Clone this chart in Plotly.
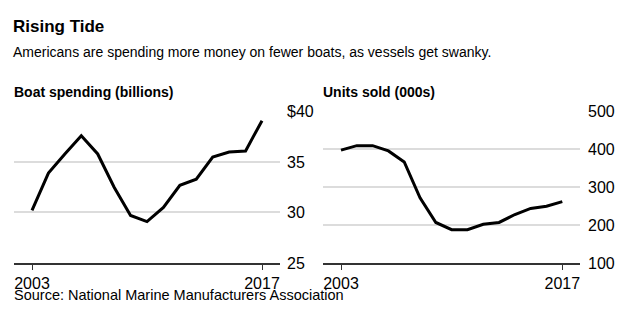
import plotly.graph_objects as go
from plotly.subplots import make_subplots

# Annual figures, 2003-2017
years = list(range(2003, 2018))
spending_billions = [30.2, 33.9, 35.8, 37.6, 35.8, 32.5, 29.7, 29.1, 30.5, 32.7, 33.3, 35.5, 36.0, 36.1, 39.1]
units_thousands = [398, 410, 410, 396, 367, 272, 207, 188, 188, 202, 207, 228, 244, 250, 262]

spend_ticks = [25, 30, 35, 40]
spend_tick_text = ["25", "30", "35", "$40"]
units_ticks = [100, 200, 300, 400, 500]
year_ticks = [2003, 2017]

W, H = 633, 325
FONT = "Liberation Sans, Arial, sans-serif"


def fx(px):
    return px / W


def fy(px):
    return 1 - px / H


fig = make_subplots(rows=1, cols=2)

fig.add_trace(go.Scatter(x=years, y=spending_billions, mode="lines",
                         line=dict(color="#000000", width=3), hoverinfo="skip"),
              row=1, col=1)
fig.add_trace(go.Scatter(x=years, y=units_thousands, mode="lines",
                         line=dict(color="#000000", width=3), hoverinfo="skip"),
              row=1, col=2)

ydom = [fy(269), fy(109.3)]

xcommon = dict(tickvals=year_ticks, ticks="outside", ticklen=5, tickwidth=1,
               tickcolor="#333333", showline=True, linecolor="#333333", linewidth=1.5,
               showgrid=False, zeroline=False,
               tickfont=dict(family=FONT, size=16, color="#000000"))
ycommon = dict(side="right", showgrid=True, gridcolor="#dcdcdc", gridwidth=1.5,
               zeroline=False, showline=False, ticks="",
               tickfont=dict(family=FONT, size=16, color="#000000"))

fig.update_layout(
    width=W, height=H, margin=dict(l=0, r=0, t=0, b=0),
    paper_bgcolor="#ffffff", plot_bgcolor="#ffffff", showlegend=False,
    xaxis=dict(domain=[fx(14), fx(280)], range=[2001.904, 2018.096], **xcommon),
    xaxis2=dict(domain=[fx(323.3), fx(580)], range=[2001.88, 2018.12], **xcommon),
    yaxis=dict(domain=ydom, range=[25, 40], tickvals=spend_ticks,
               ticktext=spend_tick_text, ticklabelstandoff=6, **ycommon),
    yaxis2=dict(domain=ydom, range=[100, 500], tickvals=units_ticks,
                ticklabelstandoff=7, **ycommon),
)


def label(text, x, y, size, bold=False):
    fig.add_annotation(text=f"<b>{text}</b>" if bold else text,
                       x=fx(x), y=fy(y), xref="paper", yref="paper",
                       xanchor="left", yanchor="middle", showarrow=False,
                       font=dict(family=FONT, size=size, color="#000000"))


label("Rising Tide", 11, 20, 17, bold=True)
label("Americans are spending more money on fewer boats, as vessels get swanky.", 11, 46, 14)
label("Boat spending (billions)", 12, 89, 14, bold=True)
label("Units sold (000s)", 321, 89, 14, bold=True)
label("Source: National Marine Manufacturers Association", 12, 303, 14.5)

fig.write_html("out.html")
